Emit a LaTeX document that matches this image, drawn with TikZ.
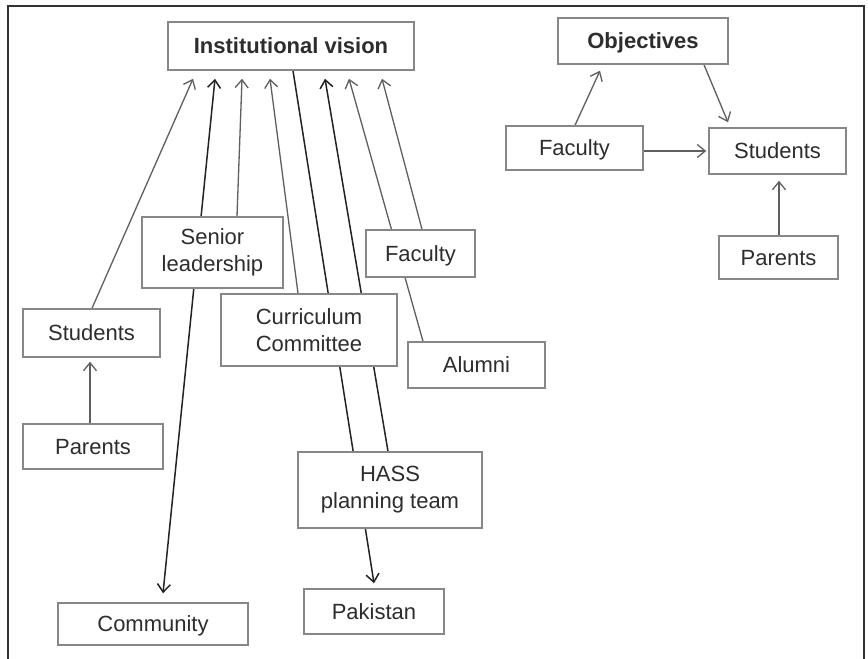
\documentclass[tikz,border=0pt]{standalone}
\usepackage{fontspec}
\setmainfont{Liberation Sans}
\usetikzlibrary{arrows.meta}
\pgfdeclarelayer{bg}
\pgfsetlayers{bg,main}
\definecolor{boxline}{RGB}{135,135,135}
\definecolor{txt}{RGB}{45,45,45}
\definecolor{conn}{RGB}{95,95,95}
\definecolor{dconn}{RGB}{35,35,35}
\definecolor{frame}{RGB}{50,50,50}
\tikzset{
  box/.style={draw=boxline, line width=1.5pt, fill=white, text=txt, inner sep=0pt,
    align=center, font=\fontsize{22}{27}\selectfont},
  oneline/.style={text height=19.9pt, text depth=4.7pt},
  tip/.style={-{Straight Barb[length=8pt,width=13pt]}},
  conline/.style={conn, line width=1.3pt, tip},
  darkline/.style={dconn, line width=1.5pt, tip},
}
\begin{document}
\begin{tikzpicture}[x=1pt,y=-1pt]
\useasboundingbox (0,0) rectangle (868,659);
\begin{pgfonlayer}{bg}
\fill[white] (0,0) rectangle (868,659);
\end{pgfonlayer}
\draw[frame, line width=2pt] (7.5,659) -- (7.5,6) -- (864,6) -- (864,659);

% nodes
\node[box, oneline, minimum width=246pt, minimum height=48pt, font=\fontsize{22}{27}\selectfont\bfseries] (iv) at (291,46) {Institutional vision};
\node[box, oneline, minimum width=170pt, minimum height=46pt, font=\fontsize{22}{27}\selectfont\bfseries] (obj) at (643,41) {Objectives};
\node[box, oneline, minimum width=137pt, minimum height=44pt] (facR) at (574.5,148) {Faculty};
\node[box, oneline, minimum width=137pt, minimum height=46pt] (stuR) at (777.5,151) {Students};
\node[box, oneline, minimum width=119pt, minimum height=43pt] (parR) at (778.5,257.5) {Parents};
\node[box, minimum width=141pt, minimum height=71pt] (sl) at (212.5,252.5) {Senior\\leadership};
\node[box, minimum width=176pt, minimum height=72pt] (cc) at (309,330) {Curriculum\\Committee};
\node[box, oneline, minimum width=109pt, minimum height=47pt] (facL) at (420.5,253.5) {Faculty};
\node[box, oneline, minimum width=137pt, minimum height=46pt] (alu) at (476.5,365) {Alumni};
\node[box, oneline, minimum width=137pt, minimum height=48pt] (stuL) at (91.5,333) {Students};
\node[box, oneline, minimum width=140pt, minimum height=45pt] (parL) at (93,446.5) {Parents};
\node[box, oneline, minimum width=190pt, minimum height=42pt] (com) at (153,624) {Community};
\node[box, minimum width=184pt, minimum height=76pt] (hass) at (390,490) {HASS\\planning team};
\node[box, oneline, minimum width=140pt, minimum height=45pt] (pak) at (374,611.5) {Pakistan};

% connectors
\begin{pgfonlayer}{bg}
\draw[conline] ([xshift=0.5pt]stuL.north) -- ([xshift=-98pt,yshift=-8pt]iv.south);
\draw[darkline, {Straight Barb[length=8pt,width=13pt]}-{Straight Barb[length=8pt,width=13pt]}]
  ([xshift=10pt,yshift=9pt]com.north) -- ([xshift=-76pt,yshift=-8pt]iv.south);
\draw[conline] ([xshift=24.5pt]sl.north) -- ([xshift=-49pt,yshift=-8pt]iv.south);
\draw[conline] ([xshift=-11pt]cc.north) -- ([xshift=-21pt,yshift=-8pt]iv.south);
\draw[darkline] ([xshift=2pt]iv.south) -- ([yshift=5pt]pak.north);
\draw[darkline] ([xshift=-2pt]hass.north) -- ([xshift=34pt,yshift=-8pt]iv.south);
\draw[conline] ([xshift=-53.5pt]alu.north) -- ([xshift=58pt,yshift=-8pt]iv.south);
\draw[conline] ([xshift=1.5pt]facL.north) -- ([xshift=91pt,yshift=-8pt]iv.south);
\draw[conline] ([xshift=-3pt]parL.north) -- ([xshift=-1.5pt,yshift=-4pt]stuL.south);
\draw[conline] ([xshift=0.5pt]facR.north) -- ([xshift=-43pt,yshift=-6pt]obj.south);
\draw[conline] ([xshift=61pt]obj.south) -- ([xshift=-49.5pt,yshift=5pt]stuR.north);
\draw[conline] ([yshift=-3pt]facR.east) -- ([xshift=-2pt]stuR.west);
\draw[conline] ([xshift=0.5pt]parR.north) -- ([xshift=1.5pt,yshift=-6pt]stuR.south);
\end{pgfonlayer}
\end{tikzpicture}
\end{document}
